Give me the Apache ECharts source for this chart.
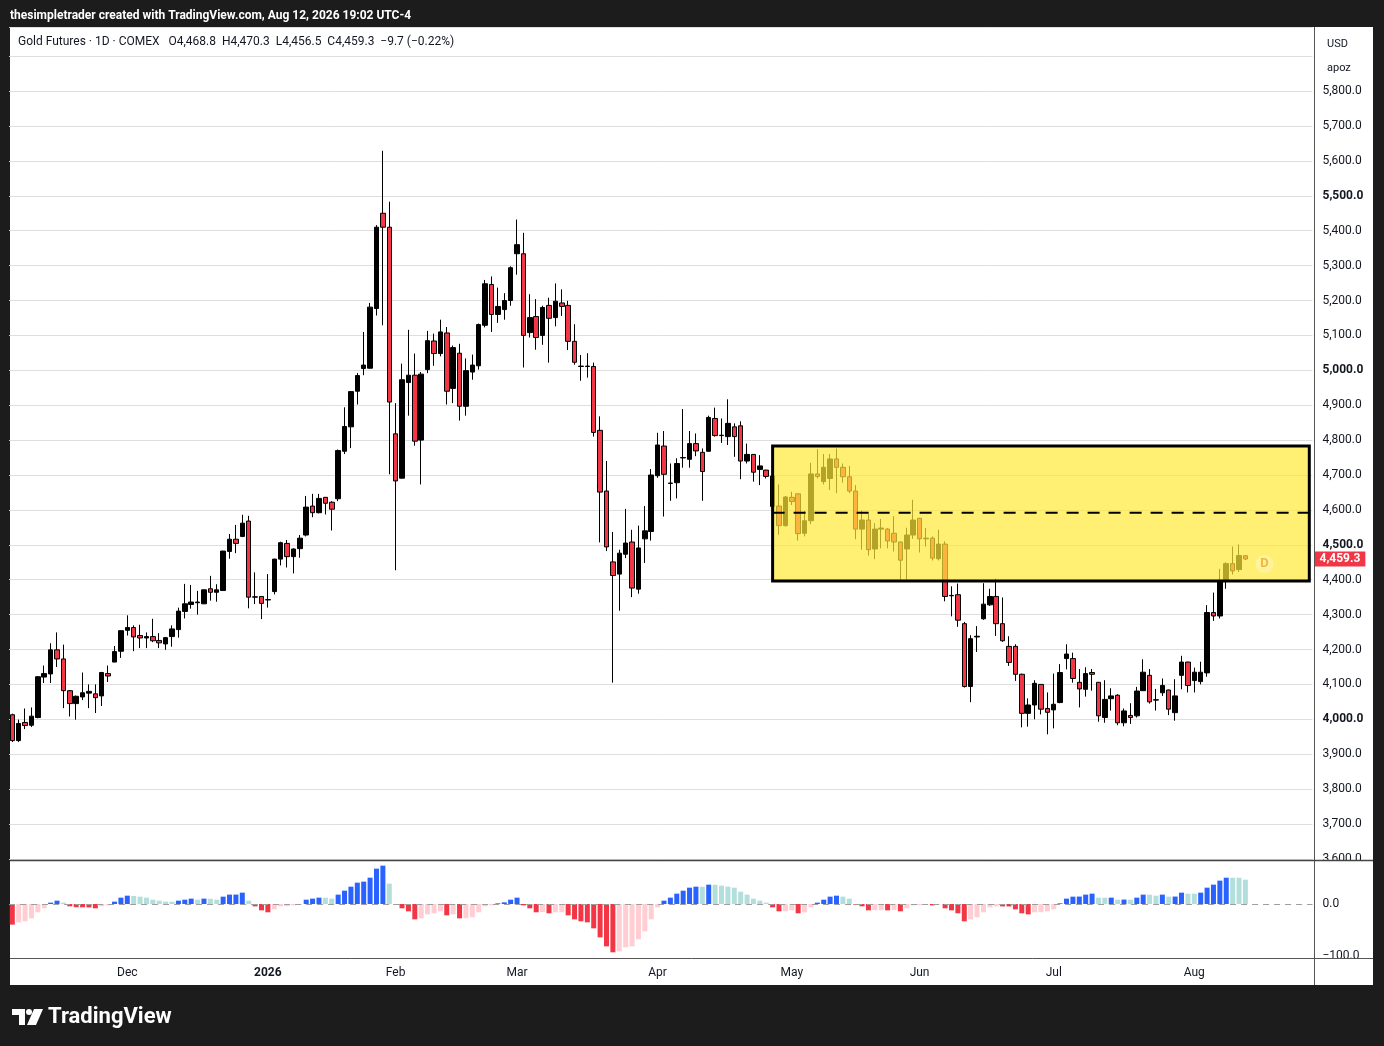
<!DOCTYPE html>
<html><head><meta charset="utf-8">
<script src="https://cdn.jsdelivr.net/npm/echarts@6/dist/echarts.min.js"></script>
<style>html,body{margin:0;padding:0;background:#1c1c1c;}#c{width:1384px;height:1046px;}</style>
</head><body><div id="c"></div>
<script>
// ---- data ----
const opens = [4013,3939,3991,3983,4005,4121,4130,4199,4173,4082,
4045,4064,4075,4073,4067,4131,4164,4195,4255,4263,
4240,4233,4237,4226,4216,4237,4257,4309,4329,4334,
4331,4374,4364,4369,4481,4516,4524,4568,4350,4352,
4342,4366,4459,4504,4466,4489,4528,4611,4592,4636,
4622,4632,4768,4838,4940,5005,5006,5177,5450,5410,
4818,4691,4965,4986,4800,5002,5084,5048,5107,4948,
5049,4897,4995,5013,5129,5246,5160,5174,5200,5334,
5334,5108,5154,5100,5186,5151,5193,5186,5083,5011,
5011,5011,4828,4654,4451,4416,4473,4508,4373,4517,
4538,4698,4783,4676,4678,4749,4745,4790,4765,4768,
4862,4813,4810,4838,4841,4740,4759,4716,4714,4697,
4611,4555,4636,4646,4533,4569,4703,4681,4690,4746,
4722,4695,4654,4545,4571,4488,4545,4545,4533,4508,
4488,4528,4576,4517,4519,4460,4502,4354,4357,4274,
4094,4236,4288,4328,4352,4274,4209,4209,4129,4017,
4041,4100,4031,4027,4048,4174,4174,4106,4086,4134,
4106,4005,4059,4069,3990,4011,4010,4082,4126,4055,
4076,4084,4019,4126,4164,4111,4108,4133,4306,4296,
4398,4446,4429,4468.8];
const closes = [3939,3988,3982,4009,4122,4131,4199,4173,4082,4045,
4066,4076,4080,4062,4134,4124,4194,4254,4263,4236,
4233,4237,4225,4219,4234,4259,4310,4331,4336,4336,
4371,4364,4371,4482,4516,4504,4562,4350,4351,4332,
4343,4459,4506,4466,4488,4519,4608,4592,4633,4619,
4602,4770,4839,4939,4985,5015,5181,5410,5410,4909,
4683,4973,4986,4797,4989,5085,5048,5110,4940,5065,
4897,4999,5015,5131,5248,5160,5183,5200,5294,5360,
5100,5151,5094,5180,5149,5198,5183,5083,5023,5012,
5012,4822,4651,4494,4412,4476,4505,4376,4491,4540,
4700,4786,4702,4677,4733,4750,4790,4769,4710,4865,
4813,4814,4848,4810,4740,4759,4708,4726,4696,4610,
4555,4637,4624,4532,4569,4703,4696,4722,4746,4722,
4695,4654,4545,4571,4486,4545,4548,4511,4508,4456,
4528,4571,4517,4519,4462,4502,4352,4355,4284,4094,
4231,4238,4330,4352,4274,4225,4163,4129,4017,4041,
4103,4029,4020,4043,4134,4187,4117,4087,4131,4129,
4010,4057,4067,3990,4024,4005,4081,4135,4050,4056,
4097,4029,4067,4164,4097,4135,4135,4306,4296,4398,
4446,4425,4469,4459.3];
const highs = [4016,3999,4031,4034,4124,4154,4218,4249,4214,4084,
4068,4134,4100,4100,4136,4154,4210,4254,4298,4269,
4271,4249,4288,4247,4236,4269,4320,4388,4385,4368,
4372,4411,4387,4483,4531,4557,4586,4583,4421,4353,
4416,4460,4509,4514,4490,4528,4640,4646,4646,4637,
4625,4773,4894,4939,4992,5110,5193,5416,5629,5483,
4906,5019,5116,5048,4995,5113,5105,5145,5124,5071,
5076,5034,5045,5134,5259,5269,5237,5221,5298,5432,
5394,5218,5204,5185,5208,5249,5232,5199,5132,5044,
5049,5022,4868,4740,4537,4486,4603,4543,4555,4611,
4717,4821,4826,4733,4748,4889,4826,4819,4776,4870,
4893,4862,4917,4848,4854,4790,4760,4757,4715,4700,
4673,4640,4652,4647,4597,4735,4774,4760,4760,4776,
4733,4726,4671,4598,4589,4562,4574,4548,4582,4509,
4549,4629,4577,4548,4524,4543,4510,4381,4389,4279,
4241,4267,4390,4374,4403,4349,4238,4215,4131,4060,
4112,4101,4077,4131,4158,4215,4191,4144,4149,4144,
4107,4112,4089,4072,4031,4046,4093,4172,4144,4087,
4117,4085,4115,4182,4165,4148,4165,4327,4363,4431,
4450,4495,4501,4470.3];
const lows = [3935,3935,3972,3978,4003,4104,4104,4150,4032,4008,
3999,4055,4032,4018,4038,4107,4164,4176,4240,4195,
4204,4204,4221,4204,4199,4208,4234,4289,4317,4300,
4330,4340,4337,4368,4460,4476,4522,4318,4330,4287,
4320,4358,4441,4435,4418,4463,4524,4579,4590,4587,
4541,4625,4760,4777,4902,4986,5005,5157,5129,4702,
4427,4690,4870,4784,4673,4992,5013,5040,4902,4906,
4856,4870,4973,5002,5123,5110,5136,5145,5185,5274,
5008,5094,5059,5073,5022,5126,5156,5058,5016,4970,
4979,4810,4507,4482,4105,4311,4462,4350,4360,4448,
4512,4692,4581,4626,4633,4721,4721,4754,4626,4767,
4810,4792,4786,4752,4688,4733,4681,4671,4690,4600,
4529,4552,4614,4512,4524,4559,4690,4673,4657,4648,
4678,4648,4516,4486,4469,4459,4490,4490,4481,4400,
4400,4517,4478,4495,4455,4455,4338,4295,4265,4091,
4049,4193,4285,4325,4239,4222,4153,4110,3977,3979,
4000,4014,3957,3974,4046,4143,4105,4034,4065,4082,
3993,3990,4025,3983,3980,3987,4005,4081,4045,4025,
4067,4012,3996,4086,4077,4077,4100,4122,4282,4289,
4374,4415,4422,4456.5];
const histValues = [-39.7,-35.3,-33.3,-27.6,-16,-8.3,2.6,6.4,2.6,-4.5,
-6.2,-6.4,-6.6,-8.3,-4.5,-2.6,4.5,12.2,16,15.5,
14.1,12.2,8.3,6.4,4.5,4.3,6.4,8.3,10.3,8.3,
10.3,10.0,8.3,14.1,18,18.1,21.8,6.4,-4.5,-12.2,
-16,-10.3,-4.5,-4.3,-2.6,-0.5,8.3,10.3,12.2,12.0,
10.3,18,25.6,33.3,41,43,50.6,68,73.7,39.1,
-1.3,-8.3,-14.1,-29.5,-27.6,-19.9,-17.9,-14.1,-21.8,-19.9,
-27.6,-27.4,-25.6,-16,-4.5,-2.6,1.3,3.2,8.3,12.2,
-2.6,-8.3,-16,-15.5,-17.9,-16,-15.8,-21.8,-29.5,-33.3,
-35.3,-46.8,-64.1,-81.4,-92.9,-91,-83.3,-81.4,-67.9,-52.6,
-29.5,-6.4,6.4,12.2,19.9,25.6,31.4,33.3,33.0,37.2,
37.0,35.3,33.3,31.4,23.7,18,10.3,6.4,2.6,-6.4,
-14.1,-14.0,-12.2,-17.9,-16,-6.4,2.6,8.3,14.1,16,
14.1,10.3,-1.3,-4.5,-12.2,-12.0,-11.9,-12.2,-11.5,-14.1,
-8.3,-2.6,-2.4,-0.3,-2.6,-0.6,-8.3,-12.2,-17.9,-33.3,
-29.5,-25.6,-16,-6.4,-4.5,-4.6,-4.7,-10.3,-17.9,-19.9,
-16,-15.8,-14.1,-10.3,1.3,10.3,14.1,14.3,18,19.9,
12.2,12.0,12.2,8.3,8.5,8.2,12.2,18,17.9,16,
18,14.1,14.3,21.8,19.9,19.8,21.8,31.4,37.2,44.9,
50.6,50.5,50.4,46.8];
const firstTradingDate = '2025-11-04';
const axisDayCount = 204;
const holidays = ['2025-11-27','2025-12-25','2026-01-01','2026-01-19','2026-02-16','2026-04-03','2026-05-25','2026-06-19','2026-07-03'];
const monthNames = ['Jan','Feb','Mar','Apr','May','Jun','Jul','Aug','Sep','Oct','Nov','Dec'];
const zoneStartIndex = 119, zoneEndIndex = 203;
const zoneTop = 4783, zoneBottom = 4396, zoneMid = 4592;
const sessionMarker = [196, 4445];
const chartTitle = 'thesimpletrader created with TradingView.com, Aug 12, 2026 19:02 UTC-4';
const symbolName = 'Gold Futures · 1D · COMEX';

// ---- build ----
const dates = [];
(function(){
  const d = new Date(firstTradingDate + 'T00:00:00Z');
  while (dates.length < axisDayCount) {
    const wd = d.getUTCDay(); const s = d.toISOString().slice(0,10);
    if (wd !== 0 && wd !== 6 && holidays.indexOf(s) < 0) dates.push(s);
    d.setUTCDate(d.getUTCDate() + 1);
  }
})();
const monthStart = new Set();
for (let i = 1; i < dates.length; i++) if (dates[i].slice(0,7) !== dates[i-1].slice(0,7)) monthStart.add(i);

const FONT = 'Roboto, "Noto Sans", sans-serif';
const fmt1 = v => Number(v).toLocaleString('en-US', {minimumFractionDigits:1, maximumFractionDigits:1});
const candleData = opens.map((o,i) => [o, closes[i], lows[i], highs[i]]);
const last = opens.length - 1;
const chg = closes[last] - closes[last-1];
const pct = chg / closes[last-1] * 100;
const signed = (v, d) => (v < 0 ? '\u2212' : '+') + Math.abs(v).toFixed(d);
const legendText = symbolName + '   O' + fmt1(opens[last]) + '  H' + fmt1(highs[last]) + '  L' + fmt1(lows[last]) + '  C' + fmt1(closes[last]) + '  ' + signed(chg,1) + ' (' + signed(pct,2) + '%)';

function histColor(i){
  const v = histValues[i], p = i > 0 ? histValues[i-1] : v;
  if (v >= 0) return v > p ? '#2962ff' : '#b2dfdb';
  return (v < p || i === 0) ? '#f23645' : '#ffcdd2';
}

const GL = 9.1, GR = 71.5;
const chart = echarts.init(document.getElementById('c'));
chart.setOption({
  animation: false,
  backgroundColor: '#1c1c1c',
  grid: [
    {left: GL, right: GR, top: 27, height: 831.9},
    {left: GL, right: GR, top: 860, height: 96}
  ],
  xAxis: [
    {type:'category', gridIndex:0, data:dates, boundaryGap:true, show:true,
     axisLine:{show:false}, axisTick:{show:false}, axisLabel:{show:false}, splitLine:{show:false}},
    {type:'category', gridIndex:1, data:dates, boundaryGap:true,
     axisLine:{show:false}, axisTick:{show:false}, splitLine:{show:false},
     axisLabel:{interval:(i)=>monthStart.has(i), margin:11, color:'#131722', fontSize:12, fontFamily:FONT,
       formatter:(v)=>{ const m = +v.slice(5,7); return m===1 ? '{b|' + v.slice(0,4) + '}' : monthNames[m-1]; },
       rich:{b:{fontWeight:'bold', fontSize:12, color:'#131722', fontFamily:FONT}}}}
  ],
  yAxis: [
    {type:'value', gridIndex:0, position:'right', min:3600, max:5983.7, interval:100, scale:true,
     axisLine:{show:false}, axisTick:{show:false},
     splitLine:{lineStyle:{color:'#dedede', width:1}},
     axisLabel:{margin:10, color:'#131722', fontSize:12, fontFamily:FONT,
       formatter:(v)=>{ if (Math.abs(v%100)>0.01 || v>5800) return ''; const t = fmt1(v); return v%500===0 ? '{b|'+t+'}' : t; },
       rich:{b:{fontWeight:'bold', fontSize:12, color:'#131722', fontFamily:FONT}}}},
    {type:'value', gridIndex:1, position:'right', min:-100, max:84.6, interval:100, z:20,
     axisLine:{show:false}, axisTick:{show:false}, splitLine:{show:false},
     axisLabel:{margin:10, color:'#131722', fontSize:12, fontFamily:FONT,
       formatter:(v)=> v===0 ? '0.0' : (v===-100 ? '\u2212100.0' : '')}}
  ],
  series: [
    {type:'candlestick', xAxisIndex:0, yAxisIndex:0, data:candleData, barWidth:5, z:2,
     itemStyle:{color:'#000000', color0:'#f23645', borderColor:'#000000', borderColor0:'#000000', borderWidth:1},
     markLine:{silent:true, symbol:['none','none'], animation:false,
       lineStyle:{color:'rgba(0,0,0,0)', width:0},
       label:{show:true, position:'end', distance:2, formatter: fmt1(closes[last]),
         backgroundColor:'#f23645', color:'#ffffff', fontWeight:'bold', fontSize:12, fontFamily:FONT, padding:[2,5,1,5]},
       data:[{yAxis: closes[last]}]}},
    {type:'custom', xAxisIndex:0, yAxisIndex:0, z:5, silent:true,
     data:[[zoneStartIndex, zoneEndIndex, zoneTop, zoneBottom, zoneMid]],
     encode:{x:[0,1], y:[2,3,4]},
     renderItem:(params, api)=>{
       const a = api.coord([api.value(0), api.value(2)]);
       const b = api.coord([api.value(1), api.value(3)]);
       const m1 = api.coord([api.value(0), api.value(4)]);
       const m2 = api.coord([api.value(1), api.value(4)]);
       return {type:'group', children:[
         {type:'rect', shape:{x:a[0], y:a[1], width:b[0]-a[0], height:b[1]-a[1]},
          style:{fill:'rgba(255,234,57,0.7)', stroke:'#000', lineWidth:3}},
         {type:'line', shape:{x1:m1[0], y1:m1[1], x2:m2[0], y2:m2[1]},
          style:{stroke:'#000', lineWidth:2, lineDash:[12,9]}}
       ]};
     }},
    {type:'custom', xAxisIndex:0, yAxisIndex:0, z:6, silent:true,
     data:[sessionMarker], encode:{x:0, y:1},
     renderItem:(params, api)=>{
       const p = api.coord([api.value(0), api.value(1)]);
       return {type:'group', children:[
         {type:'circle', shape:{cx:p[0], cy:p[1], r:9}, style:{fill:'rgba(255,246,190,0.55)'}},
         {type:'text', x:p[0], y:p[1], style:{text:'D', fill:'#f7b53b', font:'bold 13px '+FONT, align:'center', verticalAlign:'middle', textAlign:'center', textVerticalAlign:'middle'}}
       ]};
     }},
    {type:'bar', xAxisIndex:1, yAxisIndex:1, barWidth:5, z:2,
     data: histValues.map((v,i)=>({value:v, itemStyle:{color:histColor(i)}})),
     markLine:{silent:true, symbol:['none','none'], animation:false, label:{show:false},
       lineStyle:{color:'#9e9e9e', type:[6,5], width:1}, data:[{yAxis:0}]}}
  ],
  graphic: [
    {type:'rect', z:-100, shape:{x:10, y:27, width:1363, height:958}, style:{fill:'#ffffff'}},
    {type:'rect', z:10, shape:{x:1315, y:860.5, width:58, height:97}, style:{fill:'#ffffff'}},
    {type:'rect', z:30, shape:{x:1315, y:958.5, width:58, height:26.5}, style:{fill:'#ffffff'}},
    {type:'line', z:40, shape:{x1:1314.5, y1:27, x2:1314.5, y2:985}, style:{stroke:'#555555', lineWidth:1}},
    {type:'line', z:40, shape:{x1:10, y1:860.5, x2:1373, y2:860.5}, style:{stroke:'#444444', lineWidth:1.5}},
    {type:'line', z:40, shape:{x1:10, y1:958.5, x2:1373, y2:958.5}, style:{stroke:'#555555', lineWidth:1}},
    {type:'text', z:50, x:10, y:15.5, style:{text:chartTitle, fill:'#ffffff', font:'bold 12px '+FONT, verticalAlign:'middle', textVerticalAlign:'middle'}},
    {type:'text', z:50, x:18, y:42, style:{text:legendText, fill:'#131722', font:'12px '+FONT, verticalAlign:'middle', textVerticalAlign:'middle'}},
    {type:'text', z:50, x:1327, y:44, style:{text:'USD', fill:'#131722', font:'11px '+FONT, verticalAlign:'middle', textVerticalAlign:'middle'}},
    {type:'text', z:50, x:1327, y:68, style:{text:'apoz', fill:'#131722', font:'11px '+FONT, verticalAlign:'middle', textVerticalAlign:'middle'}},
    {type:'polygon', z:50, shape:{points:[[12,1009],[25,1009],[25,1025],[19,1025],[19,1015],[12,1015]]}, style:{fill:'#ffffff'}},
    {type:'circle', z:50, shape:{cx:29, cy:1012, r:3}, style:{fill:'#ffffff'}},
    {type:'polygon', z:50, shape:{points:[[34,1009],[43,1009],[36,1025],[27,1025]]}, style:{fill:'#ffffff'}},
    {type:'text', z:50, x:48, y:1017.5, style:{text:'TradingView', fill:'#ffffff', font:'bold 22px '+FONT, verticalAlign:'middle', textVerticalAlign:'middle'}}
  ]
});
</script>
</body></html>
